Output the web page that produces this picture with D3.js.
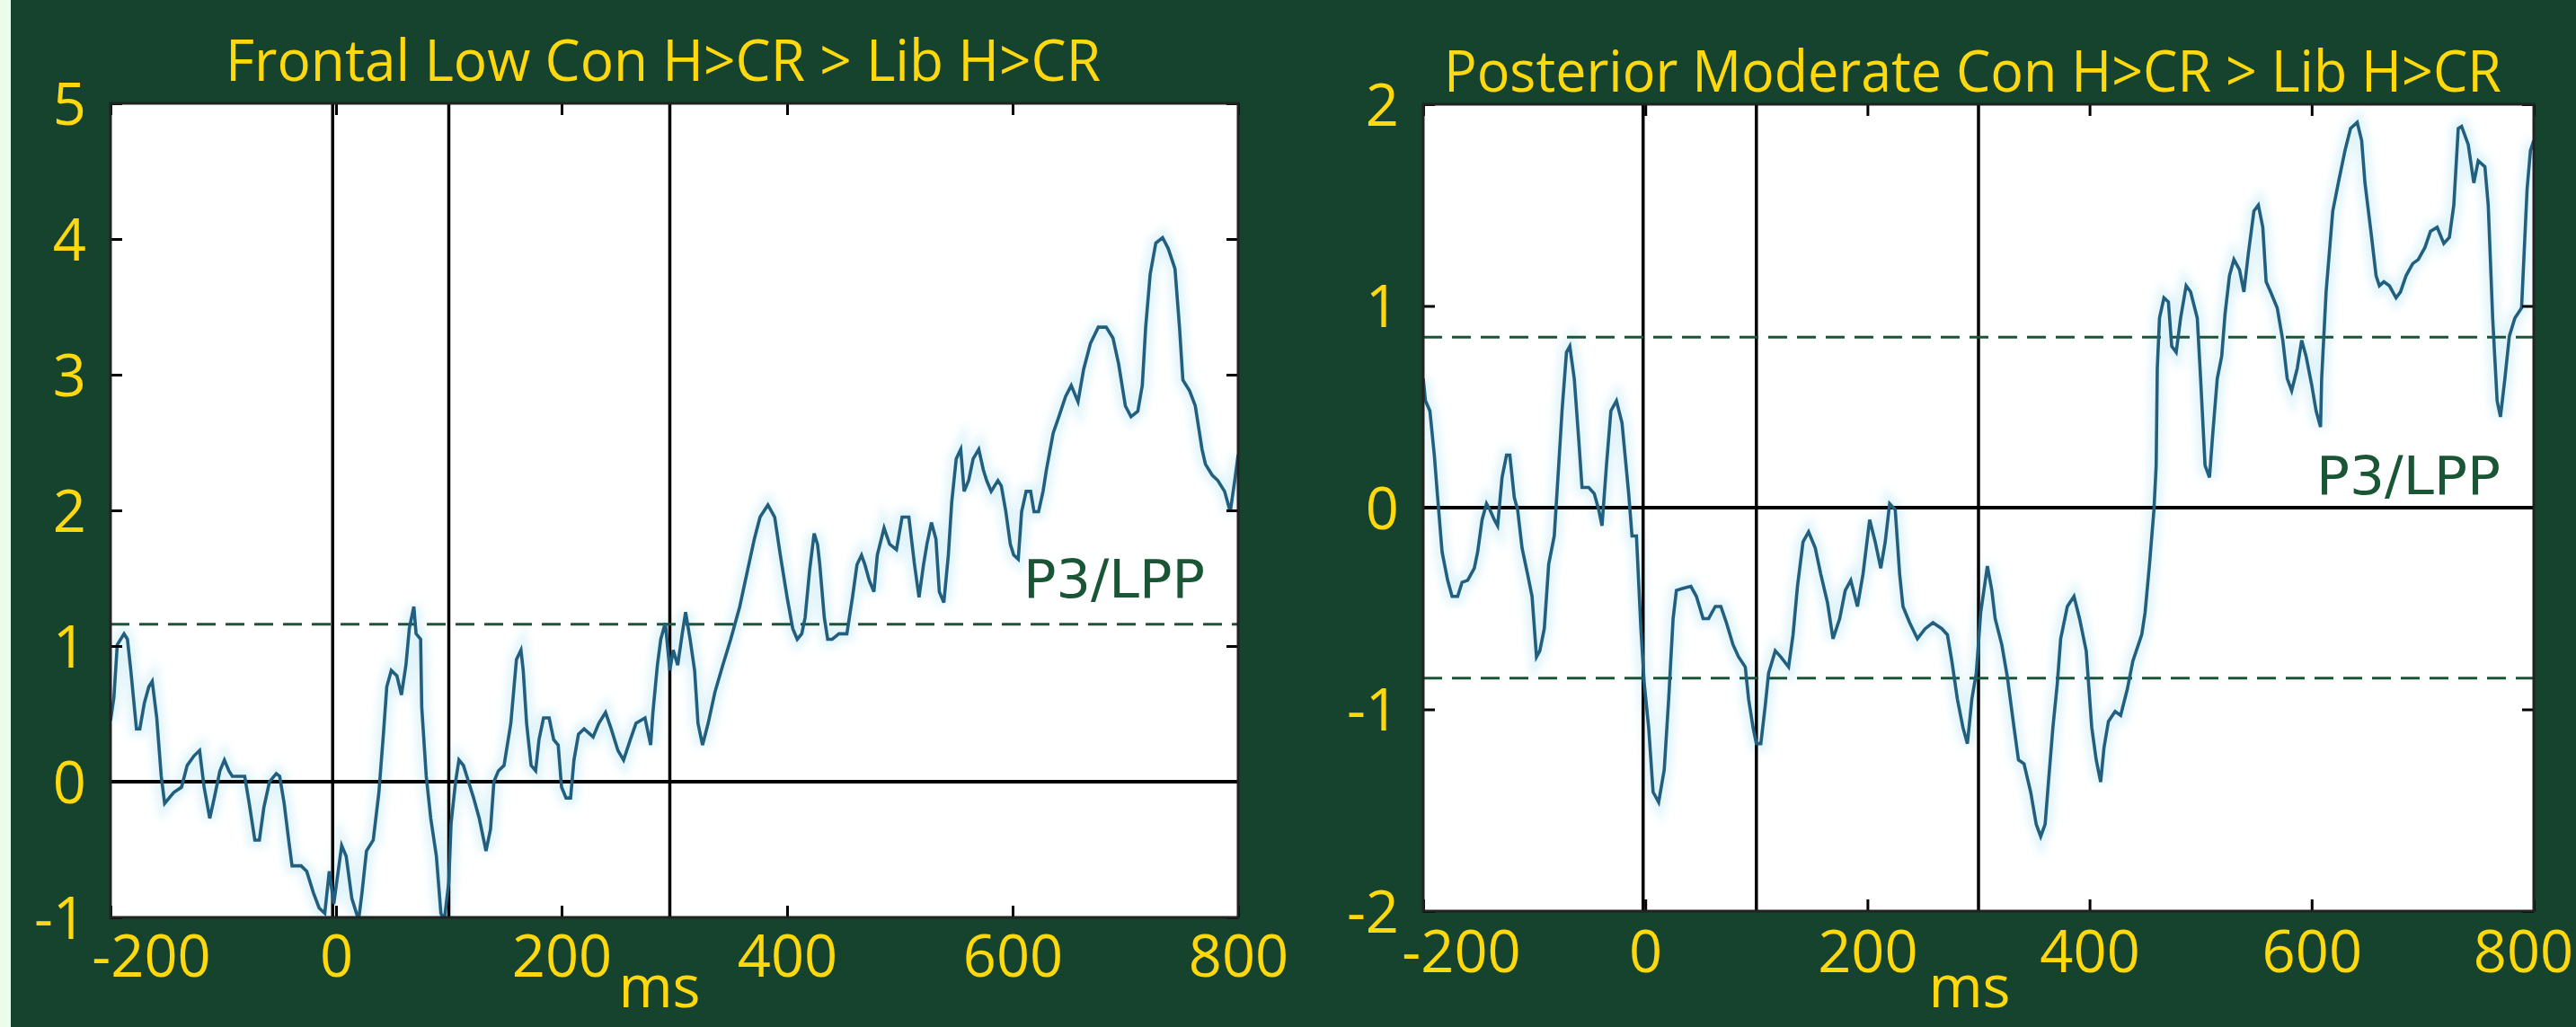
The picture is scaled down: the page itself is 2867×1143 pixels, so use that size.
<!DOCTYPE html>
<html><head><meta charset="utf-8">
<script src="https://cdn.jsdelivr.net/npm/d3@7"></script>
<style>
html,body{margin:0;padding:0;background:#15432d;overflow:hidden}
svg{display:block}
</style></head><body>
<svg id="chart" width="2867" height="1143"></svg>
<script>
// ---------- data ----------
const xTicks = [-200, 0, 200, 400, 600, 800];
const frontalYTicks = [-1, 0, 1, 2, 3, 4, 5];
const posteriorYTicks = [-2, -1, 0, 1, 2];
const frontalTitle = "Frontal Low Con H>CR > Lib H>CR";
const posteriorTitle = "Posterior Moderate Con H>CR > Lib H>CR";
const componentLabel = "P3/LPP";
const xLabel = "ms";
const frontalMarkers = [-3, 100, 296];
const posteriorMarkers = [-2, 100, 300];
const frontalThresholds = [1.16];
const posteriorThresholds = [0.845, -0.845];

// [time ms, amplitude]
const frontalSeries = [
[-200,0.45],[-197,0.62],[-194,1.01],[-188,1.09],[-185,1.05],[-182,0.82],[-177,0.39],[-174,0.39],[-170,0.58],[-166,0.70],[-163,0.74],[-159,0.47],[-155,0.04],[-152,-0.16],[-148,-0.12],[-144,-0.08],[-137,-0.04],[-132,0.12],[-126,0.19],[-121,0.23],[-117,-0.04],[-112,-0.27],[-108,-0.12],[-103,0.08],[-99,0.16],[-95,0.08],[-92,0.04],[-86,0.04],[-81,0.04],[-77,-0.16],[-72,-0.43],[-68,-0.43],[-64,-0.19],[-59,0.0],[-53,0.06],[-50,0.04],[-46,-0.16],[-42,-0.43],[-39,-0.62],[-31,-0.62],[-26,-0.66],[-20,-0.82],[-15,-0.93],[-10,-0.97],[-6,-0.66],[-2,-0.90],[5,-0.47],[9,-0.55],[14,-0.86],[20,-1.02],[23,-0.82],[27,-0.51],[33,-0.43],[38,-0.08],[42,0.35],[45,0.70],[49,0.82],[54,0.78],[58,0.64],[62,0.86],[65,1.13],[69,1.29],[71,1.09],[75,1.05],[76,0.55],[80,0.04],[84,-0.27],[89,-0.55],[93,-0.97],[96,-1.02],[100,-0.74],[102,-0.31],[106,0.0],[109,0.16],[113,0.12],[116,0.04],[122,-0.12],[127,-0.27],[133,-0.51],[137,-0.35],[140,0.0],[144,0.08],[149,0.12],[155,0.43],[160,0.90],[164,0.97],[166,0.82],[169,0.43],[173,0.12],[177,0.08],[180,0.31],[184,0.47],[189,0.47],[193,0.31],[197,0.27],[200,-0.04],[204,-0.12],[208,-0.12],[211,0.16],[215,0.35],[220,0.39],[228,0.33],[233,0.43],[239,0.51],[244,0.39],[250,0.23],[255,0.16],[261,0.31],
[266,0.43],[274,0.47],[279,0.27],[281,0.51],[285,0.86],[288,1.05],[292,1.17],[296,0.82],[299,0.97],[303,0.86],[307,1.09],[310,1.25],[314,1.05],[318,0.82],[321,0.43],[325,0.27],[330,0.43],[336,0.66],[343,0.86],[350,1.05],[358,1.29],[365,1.56],[371,1.79],[376,1.95],[383,2.04],[389,1.95],[394,1.67],[400,1.36],[405,1.13],[409,1.05],[413,1.09],[416,1.21],[420,1.56],[424,1.83],[427,1.75],[429,1.60],[433,1.21],[436,1.05],[440,1.05],[446,1.09],[453,1.09],[458,1.36],[462,1.60],[466,1.67],[469,1.60],[473,1.48],[477,1.40],[480,1.67],[486,1.87],[491,1.75],[497,1.71],[502,1.95],[508,1.95],[513,1.60],[517,1.36],[521,1.60],[524,1.75],[528,1.91],[532,1.79],[535,1.40],[539,1.32],[543,1.67],[546,2.06],[550,2.38],[554,2.45],[557,2.14],[561,2.22],[565,2.38],[570,2.45],[574,2.30],[577,2.22],[581,2.14],[587,2.22],[590,2.18],[594,1.99],[598,1.75],[601,1.67],[605,1.64],[608,1.99],[612,2.14],[616,2.14],[619,1.99],[623,1.99],[627,2.14],[630,2.30],[636,2.57],[641,2.69],[647,2.84],[652,2.92],[658,2.80],[663,3.04],[669,3.23],[676,3.35],[683,3.35],[689,3.27],[694,3.08],[700,2.77],[705,2.69],[711,2.73],[715,2.92],[718,3.35],[722,3.74],[727,3.97],[733,4.01],[738,3.93],[744,3.78],[748,3.35],[751,2.96],[757,2.88],[762,2.77],[768,2.45],[771,2.34],[777,2.26],[782,2.22],[788,2.14],[793,1.99],[797,2.22],[800,2.41]
];

const posteriorSeries = [
[-200,0.64],[-198,0.53],[-194,0.48],[-190,0.26],[-187,0.05],[-183,-0.22],[-178,-0.36],[-174,-0.44],[-169,-0.44],[-165,-0.37],[-160,-0.36],[-154,-0.30],[-151,-0.22],[-147,-0.06],[-143,0.02],[-140,-0.01],[-136,-0.06],[-133,-0.09],[-129,0.15],[-125,0.26],[-122,0.26],[-118,0.05],[-115,-0.01],[-111,-0.20],[-106,-0.33],[-102,-0.44],[-98,-0.74],[-95,-0.71],[-91,-0.60],[-87,-0.28],[-82,-0.14],[-78,0.21],[-75,0.48],[-71,0.77],[-68,0.80],[-64,0.64],[-60,0.34],[-57,0.10],[-51,0.10],[-46,0.07],[-42,-0.01],[-39,-0.09],[-35,0.21],[-31,0.48],[-26,0.53],[-21,0.42],[-15,0.07],[-12,-0.14],[-8,-0.14],[-4,-0.60],[-1,-0.87],[3,-1.09],[7,-1.41],[12,-1.46],[17,-1.30],[21,-0.95],[25,-0.55],[28,-0.41],[34,-0.40],[41,-0.39],[46,-0.44],[52,-0.55],[57,-0.55],[63,-0.49],[68,-0.49],[73,-0.57],[79,-0.68],[84,-0.74],[90,-0.79],[93,-0.95],[97,-1.09],[100,-1.17],[104,-1.17],[108,-0.98],[111,-0.82],[117,-0.71],[122,-0.74],[129,-0.79],[133,-0.63],[137,-0.39],[142,-0.17],[147,-0.12],[153,-0.20],[158,-0.33],[164,-0.47],[169,-0.65],[175,-0.55],[180,-0.41],[185,-0.36],[191,-0.49],[196,-0.33],[202,-0.06],[207,-0.17],[212,-0.30],[216,-0.17],[220,0.02],[225,-0.01],[229,-0.33],[232,-0.49],[238,-0.57],[245,-0.65],[252,-0.60],[259,-0.57],[267,-0.60],[272,-0.63],[276,-0.76],[281,-0.95],[286,-1.09],[290,-1.17],[294,-0.95],[298,-0.82],
[302,-0.52],[308,-0.29],[312,-0.41],[315,-0.55],[321,-0.68],[326,-0.84],[332,-1.09],[336,-1.25],[341,-1.27],[347,-1.41],[352,-1.57],[356,-1.63],[360,-1.57],[363,-1.36],[367,-1.09],[371,-0.87],[374,-0.65],[380,-0.49],[386,-0.44],[391,-0.55],[397,-0.71],[402,-1.09],[406,-1.25],[410,-1.36],[413,-1.19],[417,-1.06],[423,-1.01],[428,-1.03],[434,-0.90],[439,-0.76],[447,-0.63],[450,-0.52],[454,-0.28],[458,-0.01],[460,0.21],[461,0.69],[463,0.94],[467,1.04],[471,1.02],[474,0.80],[478,0.77],[482,0.94],[487,1.10],[491,1.07],[497,0.94],[500,0.64],[504,0.21],[508,0.15],[511,0.37],[515,0.64],[519,0.75],[522,0.96],[526,1.15],[530,1.23],[535,1.18],[539,1.07],[543,1.26],[548,1.47],[552,1.50],[556,1.39],[559,1.12],[563,1.07],[569,0.99],[574,0.83],[578,0.64],[582,0.58],[587,0.69],[591,0.83],[595,0.75],[600,0.61],[604,0.48],[608,0.40],[609,0.64],[613,1.07],[619,1.47],[624,1.61],[630,1.77],[635,1.88],[641,1.91],[645,1.82],[648,1.61],[654,1.34],[658,1.15],[661,1.10],[665,1.12],[670,1.10],[676,1.04],[680,1.07],[685,1.15],[691,1.21],[696,1.23],[702,1.29],[707,1.37],[713,1.39],[719,1.31],[724,1.34],[728,1.50],[732,1.88],[735,1.89],[741,1.80],[746,1.61],[750,1.72],[756,1.69],[759,1.50],[763,0.94],[767,0.53],[770,0.45],[774,0.64],[778,0.85],[783,0.94],[789,0.99],[794,1.58],[797,1.77],[800,1.82]
];

// ---------- layout / style ----------
const BG = "#15432d", YELLOW = "#ffd80e", DARKGREEN = "#1a5535", TRACE = "#225f7e";
const FONT = "'Open Sans', sans-serif";
const svg = d3.select("#chart");
svg.append("rect").attr("width", 2867).attr("height", 1143).attr("fill", BG);
svg.append("rect").attr("width", 12).attr("height", 1143).attr("fill", "#ebfcea");

const panels = [
  { id: "f", series: frontalSeries, yTicks: frontalYTicks, yDomain: [-1, 5], markers: frontalMarkers,
    thresholds: frontalThresholds, title: frontalTitle,
    x0: 123, x1: 1378, y0: 115, y1: 1021,
    titleX: 251, titleW: 974, titleY: 90,
    labelX: 1139, labelW: 202, labelY: 665,
    firstShift: 45, lastShift: 0, xLabY: 1087, msX: 734, msY: 1121 },
  { id: "p", series: posteriorSeries, yTicks: posteriorYTicks, yDomain: [-2, 2], markers: posteriorMarkers,
    thresholds: posteriorThresholds, title: posteriorTitle,
    x0: 1584, x1: 2820, y0: 116, y1: 1014,
    titleX: 1607, titleW: 1177, titleY: 102,
    labelX: 2578, labelW: 205, labelY: 550,
    firstShift: 42, lastShift: -12, xLabY: 1082, msX: 2192, msY: 1121 }
];

const defs = svg.append("defs");
defs.append("filter").attr("id", "glow").attr("x", "-5%").attr("y", "-5%").attr("width", "110%").attr("height", "110%")
  .append("feGaussianBlur").attr("stdDeviation", 5);

panels.forEach(p => {
  const x = d3.scaleLinear().domain([-200, 800]).range([p.x0, p.x1]);
  const y = d3.scaleLinear().domain(p.yDomain).range([p.y1, p.y0]);
  const g = svg.append("g");

  defs.append("clipPath").attr("id", "clip-" + p.id)
    .append("rect").attr("x", p.x0).attr("y", p.y0).attr("width", p.x1 - p.x0).attr("height", p.y1 - p.y0);

  // plot area
  g.append("rect").attr("x", p.x0).attr("y", p.y0).attr("width", p.x1 - p.x0).attr("height", p.y1 - p.y0)
    .attr("fill", "#ffffff");

  const plot = g.append("g").attr("clip-path", "url(#clip-" + p.id + ")");

  // trace glow (soft halo)
  const line = d3.line().x(d => x(d[0])).y(d => y(d[1]));
  plot.append("path").datum(p.series).attr("d", line).attr("fill", "none")
    .attr("stroke", "#c9ecf7").attr("stroke-width", 16).attr("opacity", 0.55).attr("filter", "url(#glow)");

  // zero line
  plot.append("line").attr("x1", p.x0).attr("x2", p.x1).attr("y1", y(0)).attr("y2", y(0))
    .attr("stroke", "#000").attr("stroke-width", 4);

  // marker verticals
  plot.selectAll(".mk").data(p.markers).join("line")
    .attr("x1", d => x(d)).attr("x2", d => x(d)).attr("y1", p.y0).attr("y2", p.y1)
    .attr("stroke", "#000").attr("stroke-width", 3.5);

  // threshold dashed lines
  plot.selectAll(".th").data(p.thresholds).join("line")
    .attr("x1", p.x0).attr("x2", p.x1).attr("y1", d => y(d)).attr("y2", d => y(d))
    .attr("stroke", DARKGREEN).attr("stroke-width", 3).attr("stroke-dasharray", "21,11");

  // trace
  plot.append("path").datum(p.series).attr("d", line).attr("fill", "none")
    .attr("stroke", TRACE).attr("stroke-width", 3.6).attr("stroke-linejoin", "miter");

  // inner ticks (all four sides)
  const tickLen = 13;
  const mk = (axis, tx, ty) => {
    const a = g.append("g").attr("transform", `translate(${tx},${ty})`).call(axis);
    a.select(".domain").remove();
    a.selectAll("text").remove();
    a.selectAll("line").attr("stroke", "#000").attr("stroke-width", 3);
  };
  mk(d3.axisBottom(x).tickValues(xTicks).tickSize(-tickLen).tickSizeOuter(0), 0, p.y1);
  mk(d3.axisTop(x).tickValues(xTicks).tickSize(-tickLen).tickSizeOuter(0), 0, p.y0);
  mk(d3.axisLeft(y).tickValues(p.yTicks).tickSize(-tickLen).tickSizeOuter(0), p.x0, 0);
  mk(d3.axisRight(y).tickValues(p.yTicks).tickSize(-tickLen).tickSizeOuter(0), p.x1, 0);

  // frame
  g.append("rect").attr("x", p.x0).attr("y", p.y0).attr("width", p.x1 - p.x0).attr("height", p.y1 - p.y0)
    .attr("fill", "none").attr("stroke", "#222").attr("stroke-width", 3);

  // x tick labels (plain hyphen-minus as in the original)
  const xa = svg.append("g").attr("transform", `translate(0,${p.xLabY})`)
    .call(d3.axisBottom(x).tickValues(xTicks).tickSize(0).tickPadding(0).tickFormat(d => String(d)));
  xa.select(".domain").remove();
  xa.selectAll("text").attr("y", 0).attr("dy", 0)
    .attr("x", d => d === -200 ? p.firstShift : (d === 800 ? p.lastShift : 0))
    .attr("fill", YELLOW).attr("font-family", FONT).attr("font-size", 65);

  // y tick labels
  const ya = svg.append("g").attr("transform", `translate(${p.x0},0)`)
    .call(d3.axisLeft(y).tickValues(p.yTicks).tickSize(0).tickPadding(27).tickFormat(d => String(d)));
  ya.select(".domain").remove();
  ya.selectAll("text").attr("dy", "0.36em")
    .attr("fill", YELLOW).attr("font-family", FONT).attr("font-size", 65);

  // title
  svg.append("text").attr("x", p.titleX).attr("y", p.titleY)
    .attr("textLength", p.titleW).attr("lengthAdjust", "spacingAndGlyphs")
    .attr("fill", YELLOW).attr("font-family", FONT).attr("font-size", 64)
    .text(p.title);

  // component label
  svg.append("text").attr("x", p.labelX).attr("y", p.labelY)
    .attr("textLength", p.labelW).attr("lengthAdjust", "spacingAndGlyphs")
    .attr("fill", DARKGREEN).attr("font-family", "'DejaVu Sans', sans-serif").attr("font-size", 59)
    .text(componentLabel);

  // x axis title
  svg.append("text").attr("x", p.msX).attr("y", p.msY).attr("text-anchor", "middle")
    .attr("fill", YELLOW).attr("font-family", FONT).attr("font-size", 65)
    .text(xLabel);
});
</script>
</body></html>
